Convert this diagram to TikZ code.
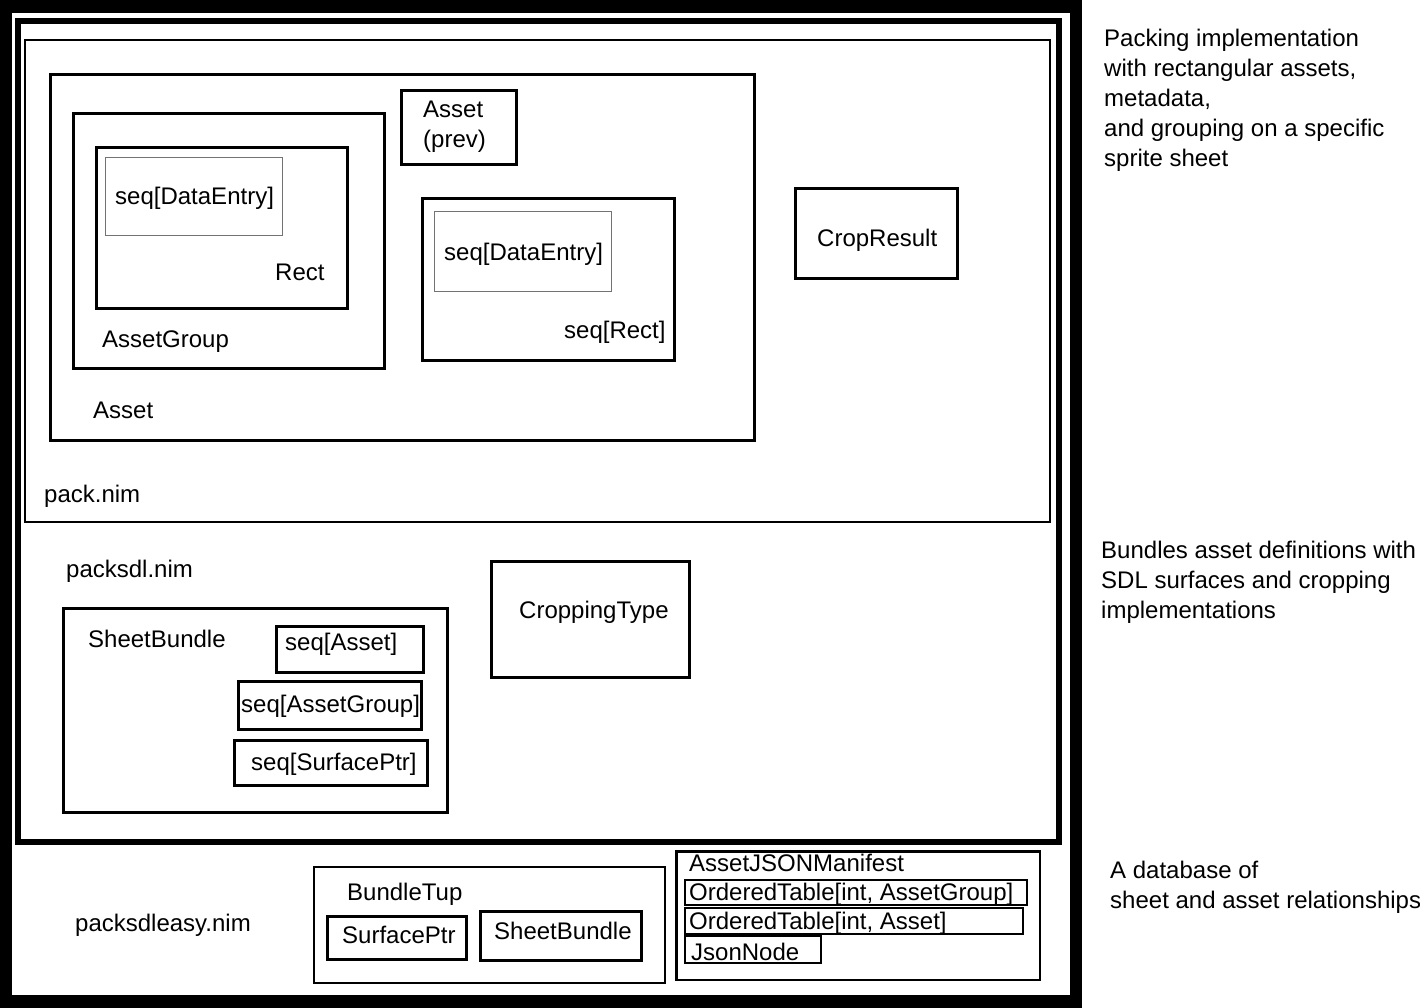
\documentclass[tikz,border=0pt]{standalone}
\usepackage{fontspec}
\setmainfont{Liberation Sans}
\begin{document}
\begin{tikzpicture}[x=1pt,y=-1pt,
  lbl/.style={anchor=base west,inner sep=0pt,font=\fontsize{24}{30}\selectfont},
  note/.style={lbl,align=left},
  boxA/.style={draw=black,line width=3pt},
  boxB/.style={draw=black,line width=2pt},
  boxthin/.style={draw=black!55,line width=1pt}]
\useasboundingbox (0,0) rectangle (1420,1008);
\fill[white] (0,0) rectangle (1420,1008);
% outer frame (packsdleasy.nim)
\fill[black] (0,0) rectangle (1082,1008);
\fill[white] (12,13) rectangle (1070,995);
% packsdl.nim
\draw[line width=6pt] (18,21) rectangle (1059,842);
% pack.nim
\draw[boxB] (25,40) rectangle (1050,522);
% Asset
\draw[boxA] (50.5,74.5) rectangle (754.5,440.5);
% AssetGroup
\draw[boxA] (73.5,113.5) rectangle (384.5,368.5);
% Rect
\draw[boxA] (96.5,147.5) rectangle (347.5,308.5);
\draw[boxthin] (105.5,157.5) rectangle (282.5,235.5);
% Asset (prev)
\draw[boxA] (401.5,90.5) rectangle (516.5,164.5);
% seq[Rect]
\draw[boxA] (422.5,198.5) rectangle (674.5,360.5);
\draw[boxthin] (434,212) rectangle (611,291);
% CropResult
\draw[boxA] (795.5,188.5) rectangle (957.5,278.5);
% CroppingType
\draw[boxA] (491.5,561.5) rectangle (689.5,677.5);
% SheetBundle
\draw[line width=2.5pt] (63.5,608.5) rectangle (447.5,812.5);
\draw[boxA] (276.5,626.5) rectangle (423.5,672.5);
\draw[boxA] (238.5,681.5) rectangle (421.5,729.5);
\draw[boxA] (234.5,740.5) rectangle (427.5,785.5);
% BundleTup
\draw[boxB] (314,867) rectangle (665,983);
\draw[boxA] (327.5,916.5) rectangle (466.5,959.5);
\draw[boxA] (480.5,911.5) rectangle (641.5,960.5);
% AssetJSONManifest
\draw[line width=2.5pt] (676.5,851.5) rectangle (1040,980);
\draw[boxB] (685,880) rectangle (1026.5,904.5);
\draw[boxB] (685,908) rectangle (1022.5,933.5);
\draw[boxB] (685,936) rectangle (821,963);

% labels
\node[lbl] (tDE1) at (115,205) {seq[DataEntry]};
\node[lbl] (tRect) at (275,280) {Rect};
\node[lbl] (tAG) at (102,347) {AssetGroup};
\node[lbl] (tAsset) at (93,418) {Asset};
\node[note] (tPrev) at (423,148) {Asset\\(prev)};
\node[lbl] (tDE2) at (444,261) {seq[DataEntry]};
\node[lbl] (tSeqRect) at (564,338) {seq[Rect]};
\node[lbl] (tCrop) at (817,247) {CropResult};
\node[lbl] (tPack) at (44,502) {pack.nim};
\node[lbl] (tPackSDL) at (66,577) {packsdl.nim};
\node[lbl] (tCropT) at (519,618) {CroppingType};
\node[lbl] (tSB) at (88,647) {SheetBundle};
\node[lbl] (tSeqA) at (285,650) {seq[Asset]};
\node[lbl] (tSeqAG) at (241,712) {seq[AssetGroup]};
\node[lbl] (tSeqSP) at (251,770) {seq[SurfacePtr]};
\node[lbl] (tEasy) at (75,931) {packsdleasy.nim};
\node[lbl] (tBT) at (347,900) {BundleTup};
\node[lbl] (tSP) at (342,943) {SurfacePtr};
\node[lbl] (tSB2) at (494,939) {SheetBundle};
\node[lbl] (tAJM) at (689,871) {AssetJSONManifest};
\node[lbl] (tOT1) at (689,900) {OrderedTable[int, AssetGroup]};
\node[lbl] (tOT2) at (689,929) {OrderedTable[int, Asset]};
\node[lbl] (tJN) at (691,960) {JsonNode};
% notes
\node[note] (n1) at (1104,167) {Packing implementation\\with rectangular assets,\\metadata,\\and grouping on a specific\\sprite sheet};
\node[note] (n2) at (1101,618) {Bundles asset definitions with\\SDL surfaces and cropping\\implementations};
\node[note] (n3) at (1110,908) {A database of\\sheet and asset relationships};
\end{tikzpicture}
\end{document}
